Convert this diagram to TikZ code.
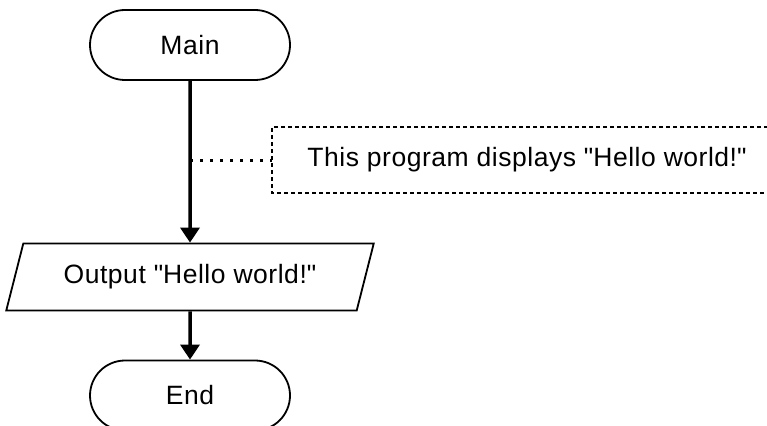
\documentclass[tikz,border=0pt]{standalone}
\usepackage{fontspec}
\setmainfont{Liberation Sans}[LetterSpace=2]
\usetikzlibrary{shapes.misc,shapes.geometric,arrows.meta}
\tikzset{
  term/.style={draw, line width=1.8pt, rounded rectangle, minimum width=200pt, minimum height=70pt, inner sep=0pt},
  io/.style={draw, line width=1.8pt, trapezium, trapezium left angle=62.4, trapezium right angle=117.6, trapezium stretches=true, minimum width=368pt, minimum height=67pt, inner sep=0pt},
  flow/.style={line width=3.5pt, -{Triangle[width=19pt,length=15pt]}},
  note/.style={line width=1.8pt, dash pattern=on 4pt off 3pt},
  notelink/.style={line width=3pt, dash pattern=on 3pt off 7pt},
}
\begin{document}
\begin{tikzpicture}[x=1pt,y=-1pt, every node/.style={font=\fontsize{26.5}{31}\selectfont}]
\useasboundingbox (0,0) rectangle (767,425);
\clip (0,0) rectangle (767,425);
\node[term] (main) at (190,45) {Main};
\node[io] (out) at (190,277) {Output \textquotedbl Hello world!\textquotedbl};
\node[term] (end) at (190,395.5) {End};
\coordinate (nl) at (272,160);
\coordinate (tap) at (190,160);
\node (cmt) at (527,160) {This program displays \textquotedbl Hello world!\textquotedbl};
\draw[note] (775,127) -- (272,127) -- (272,193) -- (775,193);
\draw[flow] (main) -- (out);
\draw[flow] (out) -- (end);
\draw[notelink] (tap) -- (nl);
\end{tikzpicture}
\end{document}
